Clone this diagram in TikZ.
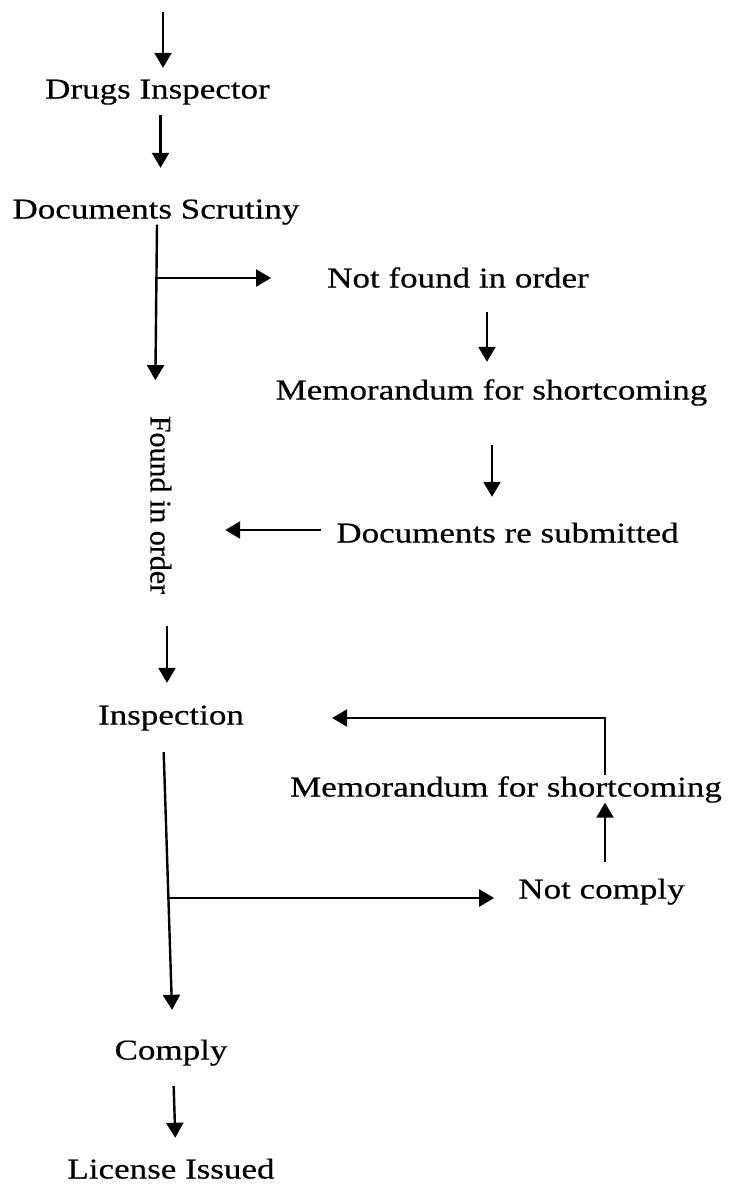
\documentclass[tikz,border=0pt]{standalone}
\usepackage{fontspec}
\setmainfont{Liberation Serif}[FakeStretch=1.22,FakeBold=0.5]
\newfontfamily\plainserif{Liberation Serif}[FakeBold=0.5]
\usetikzlibrary{arrows.meta}
\tikzset{
  lbl/.style={inner sep=0pt, text height=19pt, text depth=6pt, font=\fontsize{28.7}{30}\selectfont},
  vlbl/.style={inner sep=0pt, text height=19pt, text depth=6pt, rotate=-90, font=\plainserif\fontsize{30}{32}\selectfont},
  arr/.style={line width=2.4pt, -{Triangle[length=15pt,width=17pt]}}
}
\begin{document}
\begin{tikzpicture}[x=1pt,y=-1pt]
\useasboundingbox (0,0) rectangle (730,1186);
\node[lbl] (di) at (157.5,92) {Drugs Inspector};
\node[lbl] (ds) at (156,212) {Documents Scrutiny};
\node[lbl] (nf) at (458,281) {Not found in order};
\node[lbl] (m1) at (491.5,393) {Memorandum for shortcoming};
\node[lbl] (dr) at (507.5,536) {Documents re submitted};
\node[vlbl] (fo) at (157,505) {Found in order};
\node[lbl] (ins) at (171,718) {Inspection};
\node[lbl] (m2) at (506,790) {Memorandum for shortcoming};
\node[lbl] (nc) at (601.5,892) {Not comply};
\node[lbl] (co) at (171,1053) {Comply};
\node[lbl] (li) at (171,1172) {License Issued};
\coordinate (t0) at (163,12);
\coordinate (b1) at (156.5,278);
\coordinate (b2) at (168.7,898);
% arrows
\draw[arr, shorten >=11.5pt] (t0) -- (t0 |- di.north);
\draw[arr, shorten <=10.5pt, shorten >=31.5pt] ([xshift=3pt]di.south) -- ([xshift=3pt]di.south |- ds.north);
\draw[arr, shorten >=35.5pt] ([xshift=1pt]ds.south) -- ([xshift=-2pt]fo.west);
\draw[arr, shorten >=56pt] (b1) -- (b1 -| nf.west);
\draw[arr, shorten <=18.5pt, shorten >=18.5pt] ([xshift=29pt]nf.south) -- ([xshift=29pt]nf.south |- m1.north);
\draw[arr, shorten <=39.5pt, shorten >=26.5pt] ([xshift=0.5pt]m1.south) -- ([xshift=0.5pt]m1.south |- dr.north);
\draw[arr, shorten <=15pt, shorten >=55.5pt] ([yshift=6pt]dr.west) -- ([yshift=6pt]dr.west -| fo.north);
\draw[arr, shorten <=31.5pt, shorten >=22.5pt] ([xshift=10pt]fo.east) -- ([xshift=10pt]fo.east |- ins.north);
\draw[arr, shorten <=2.5pt, shorten >=88pt] ([xshift=99pt]m2.north) |- (ins.east);
\draw[arr, shorten <=17.5pt] ([xshift=3.5pt]nc.north) -- ([xshift=3.5pt]nc.north |- m2.south);
\draw[arr, shorten <=21.5pt, shorten >=30.5pt] ([xshift=-8pt]ins.south) -- ([xshift=2pt]co.north);
\draw[arr, shorten >=24pt] (b2) -- (b2 -| nc.west);
\draw[arr, shorten <=20.5pt, shorten >=21.5pt] ([xshift=2pt]co.south) -- ([xshift=5pt]co.south |- li.north);
\end{tikzpicture}
\end{document}
